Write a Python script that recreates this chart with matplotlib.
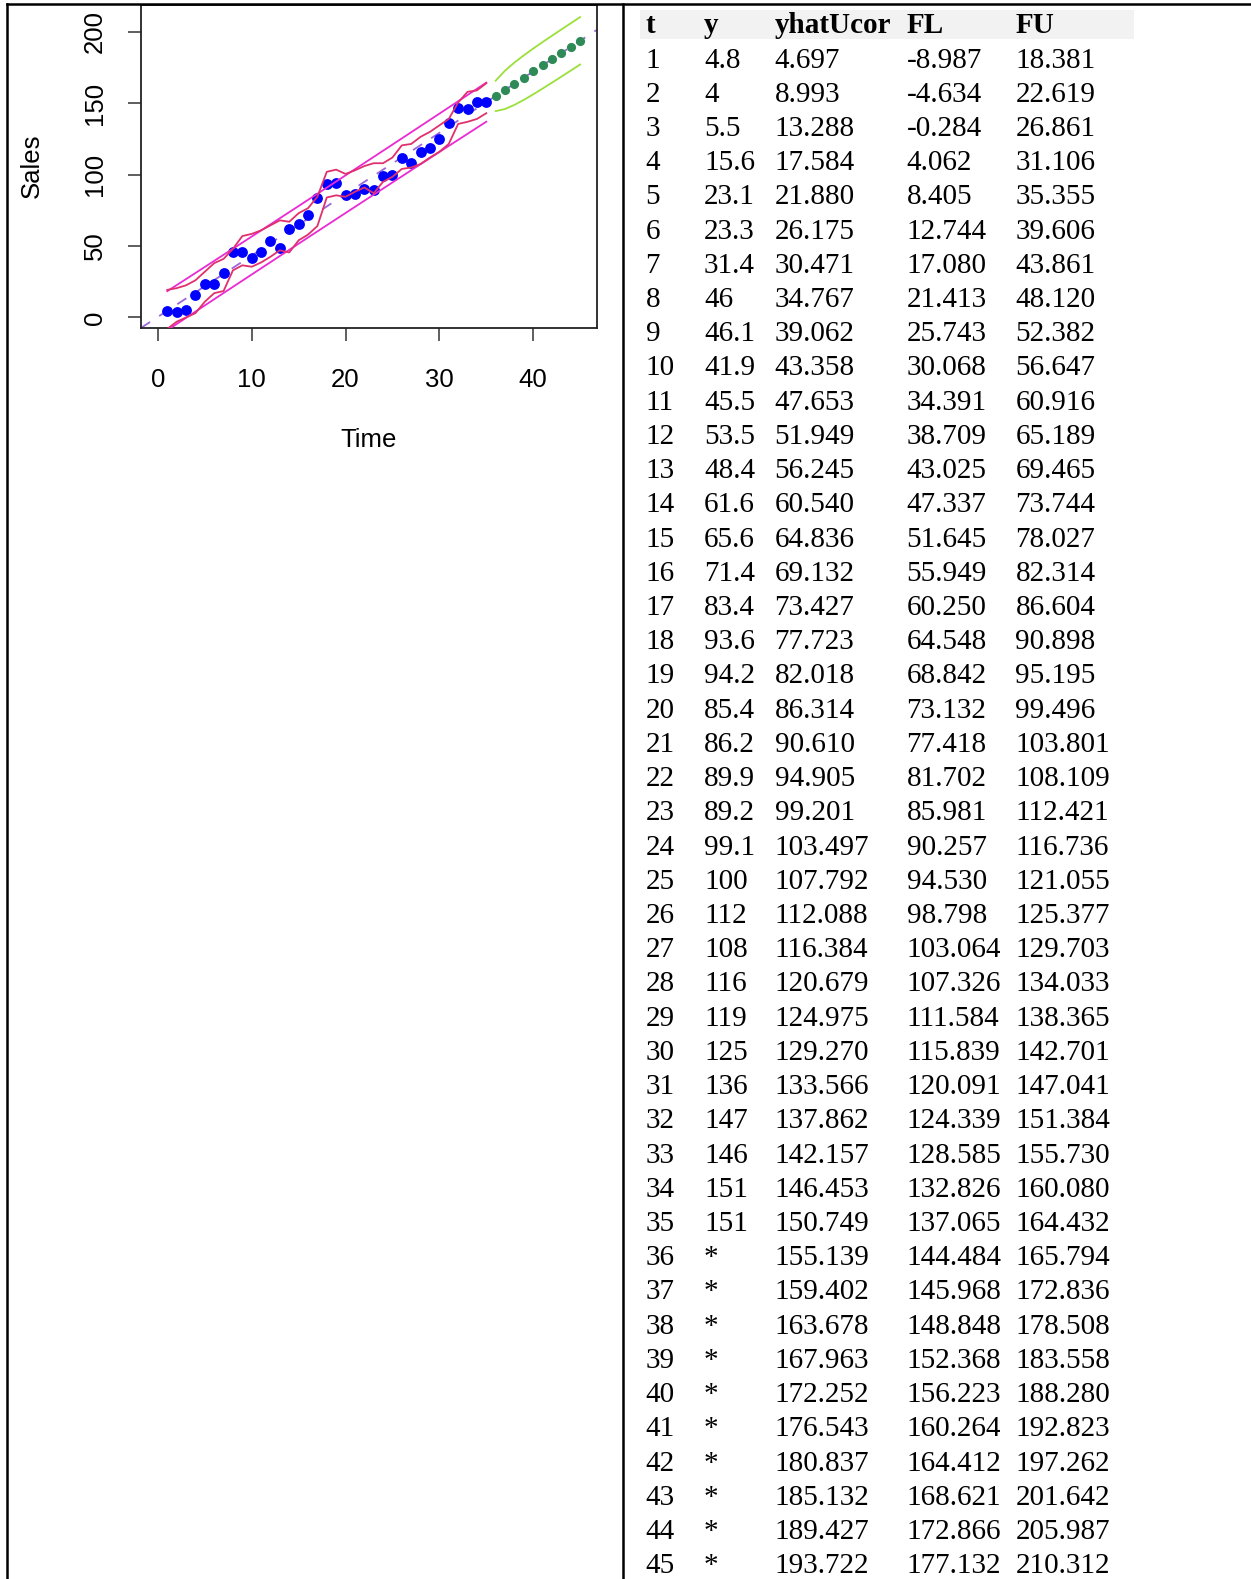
import matplotlib
matplotlib.use('Agg')
import matplotlib.pyplot as plt
from matplotlib.lines import Line2D
from matplotlib.patches import Rectangle
import numpy as np

W, H = 1251, 1579

# ---------------- data ----------------
t_all = list(range(1, 46))
t_obs = list(range(1, 36))
t_fc = list(range(36, 46))

y = [4.8, 4, 5.5, 15.6, 23.1, 23.3, 31.4, 46, 46.1, 41.9, 45.5, 53.5, 48.4, 61.6,
     65.6, 71.4, 83.4, 93.6, 94.2, 85.4, 86.2, 89.9, 89.2, 99.1, 100, 112, 108,
     116, 119, 125, 136, 147, 146, 151, 151]

yhatUcor = [4.697, 8.993, 13.288, 17.584, 21.880, 26.175, 30.471, 34.767, 39.062,
            43.358, 47.653, 51.949, 56.245, 60.540, 64.836, 69.132, 73.427, 77.723,
            82.018, 86.314, 90.610, 94.905, 99.201, 103.497, 107.792, 112.088,
            116.384, 120.679, 124.975, 129.270, 133.566, 137.862, 142.157, 146.453,
            150.749, 155.139, 159.402, 163.678, 167.963, 172.252, 176.543, 180.837,
            185.132, 189.427, 193.722]

FL = [-8.987, -4.634, -0.284, 4.062, 8.405, 12.744, 17.080, 21.413, 25.743, 30.068,
      34.391, 38.709, 43.025, 47.337, 51.645, 55.949, 60.250, 64.548, 68.842, 73.132,
      77.418, 81.702, 85.981, 90.257, 94.530, 98.798, 103.064, 107.326, 111.584,
      115.839, 120.091, 124.339, 128.585, 132.826, 137.065, 144.484, 145.968,
      148.848, 152.368, 156.223, 160.264, 164.412, 168.621, 172.866, 177.132]

FU = [18.381, 22.619, 26.861, 31.106, 35.355, 39.606, 43.861, 48.120, 52.382,
      56.647, 60.916, 65.189, 69.465, 73.744, 78.027, 82.314, 86.604, 90.898,
      95.195, 99.496, 103.801, 108.109, 112.421, 116.736, 121.055, 125.377,
      129.703, 134.033, 138.365, 142.701, 147.041, 151.384, 155.730, 160.080,
      164.432, 165.794, 172.836, 178.508, 183.558, 188.280, 192.823, 197.262,
      201.642, 205.987, 210.312]

# wiggly band
band_hi = [19.3, 20.5, 22.5, 26, 32, 38, 41, 48, 57, 58.5, 61, 64.5, 68, 67, 73,
           76.5, 84.5, 102, 103.5, 100.5, 103, 106, 108, 108, 112, 120.5, 121.5,
           126.5, 130, 134.5, 139, 150.5, 158, 159, 164]
band_lo = [-8, -3, 0, 3, 11, 17, 18.5, 33, 36.5, 35.5, 38.5, 42.5, 47, 45.5, 54,
           58, 64, 84, 85.5, 84.5, 88, 91, 87, 95, 98.5, 104, 105, 107.5, 112, 116,
           121.5, 135.5, 137, 139, 143]

xticks = [0, 10, 20, 30, 40]
yticks = [0, 50, 100, 150, 200]
headers = ['t', 'y', 'yhatUcor', 'FL', 'FU']

# ---------------- figure ----------------
fig = plt.figure(figsize=(W / 100, H / 100), dpi=100)


def fx(px):
    return px / W


def fy(py):
    return 1 - py / H


SANS = ['Liberation Sans', 'DejaVu Sans']
SERIF = ['Liberation Serif', 'DejaVu Serif']

ax_l, ax_r, ax_t, ax_b = 141, 597, 5, 328
ax = fig.add_axes([fx(ax_l), fy(ax_b), (ax_r - ax_l) / W, (ax_b - ax_t) / H])

n = len(t_obs)
ax.plot(t_obs, y, 'o', color='#0000ff', markersize=7.8, markeredgewidth=0, zorder=2)
ax.plot(t_fc, yhatUcor[n:], 'o', color='#2e8b57', markersize=6.6, markeredgewidth=0, zorder=2)

mag = '#ea2ad2'
red = '#e0306e'
grn = '#9be03a'
ax.plot(t_obs, FU[:n], color=mag, lw=1.3, zorder=3)
ax.plot(t_obs, FL[:n], color=mag, lw=1.3, zorder=3)
ax.plot(t_obs, band_hi, color=red, lw=1.3, zorder=3)
ax.plot(t_obs, band_lo, color=red, lw=1.3, zorder=3)
ax.plot(t_fc, FU[n:], color=grn, lw=1.3, zorder=3)
ax.plot(t_fc, FL[n:], color=grn, lw=1.3, zorder=3)

m, b = np.polyfit(t_all, yhatUcor, 1)
ax.axline((0, b), slope=m, color='#9a68d8', lw=1.3, ls=(0, (6, 6)), zorder=1)

ax.set_xlim(-1.8, 46.8)
ax.set_ylim(-7.4, 218.8)
ax.set_xticks(xticks)
ax.set_yticks(yticks)
ax.set_xticklabels([str(v) for v in xticks], fontsize=18.5, fontfamily=SANS)
ax.set_yticklabels([str(v) for v in yticks], fontsize=18.5, fontfamily=SANS,
                   rotation=90, va='center')
ax.tick_params(axis='both', direction='out', length=9.5, width=1.1, color='#333333')
ax.tick_params(axis='x', pad=19)
ax.tick_params(axis='y', pad=15)
for s in ax.spines.values():
    s.set_linewidth(1.3)
    s.set_color('#222222')

fig.text(fx(369), fy(440), 'Time', ha='center', va='center', fontsize=18.5,
         fontfamily=SANS)
fig.text(fx(32), fy(166), 'Sales', ha='center', va='center', rotation=90,
         fontsize=18.5, fontfamily=SANS)

# ---------------- borders ----------------
lw_b = 1.8
fig.add_artist(Line2D([fx(7), fx(W)], [fy(4), fy(4)], transform=fig.transFigure,
                      color='black', lw=lw_b))
fig.add_artist(Line2D([fx(7), fx(7)], [fy(4), fy(H)], transform=fig.transFigure,
                      color='black', lw=lw_b))
fig.add_artist(Line2D([fx(623), fx(623)], [fy(4), fy(H)], transform=fig.transFigure,
                      color='black', lw=lw_b))

# ---------------- table ----------------
fig.add_artist(Rectangle((fx(640), fy(39)), (1134 - 640) / W, (39 - 10) / H,
                         transform=fig.transFigure, facecolor='#f2f2f2',
                         edgecolor='none', zorder=0))
col_x = [645.5, 704, 774.5, 906.5, 1015.5]
head_base = 33
row0_base = 67.5
row_step = 34.22
fs_tab = 21
for cx, h in zip(col_x, headers):
    fig.text(fx(cx), fy(head_base), h, ha='left', va='baseline', fontsize=fs_tab,
             fontfamily=SERIF, fontweight='bold')

for i, tv in enumerate(t_all):
    yb = row0_base + i * row_step
    ystr = f"{y[i]:g}" if i < len(y) else '*'
    cells = [str(tv), ystr, f"{yhatUcor[i]:.3f}", f"{FL[i]:.3f}", f"{FU[i]:.3f}"]
    for cx, s in zip(col_x, cells):
        fig.text(fx(cx), fy(yb), s, ha='left', va='baseline', fontsize=fs_tab,
                 fontfamily=SERIF)

fig.savefig('out.png', dpi=100)
